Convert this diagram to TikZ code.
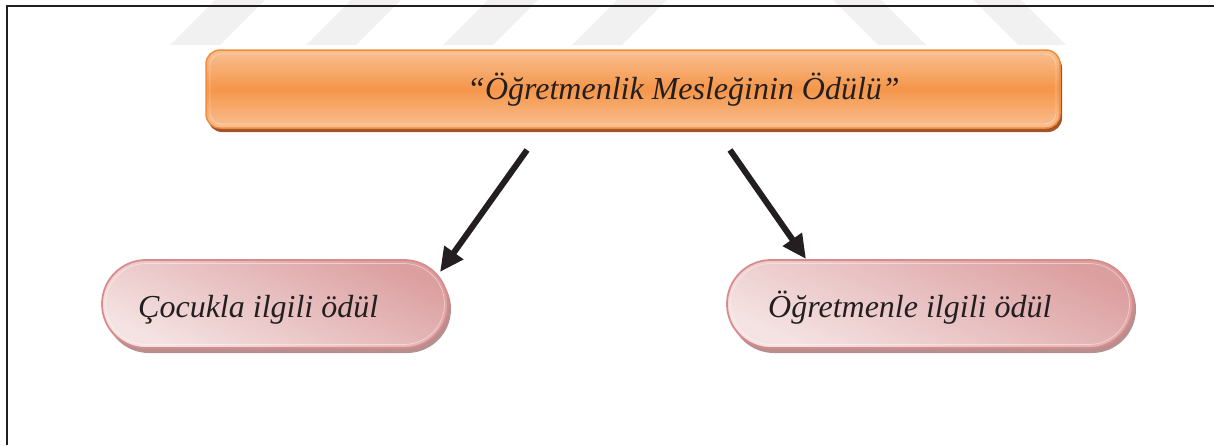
\documentclass[tikz,border=0pt]{standalone}
\usepackage{fontspec}
\setmainfont{Liberation Serif}
\usetikzlibrary{shapes.misc,arrows.meta,shadows}

\definecolor{orEdge}{HTML}{F08C3C}
\definecolor{orLight}{HTML}{F9BF92}
\definecolor{orMid}{HTML}{F5964A}
\definecolor{orShadow}{HTML}{A2542A}
\definecolor{pkEdge}{HTML}{D98B8B}
\definecolor{pkDark}{HTML}{DC9FA0}
\definecolor{pkLight}{HTML}{F5E3E3}
\definecolor{pkShadow}{HTML}{B88F8F}
\definecolor{ink}{HTML}{231F20}
\definecolor{wmFill}{HTML}{F1F1F1}

\begin{document}
\begin{tikzpicture}[x=1pt,y=-1pt,
  frameline/.style={ink, line width=2.4pt},
  wmark/.style={fill=wmFill, draw=none},
  titlebox/.style={rectangle, rounded corners=14pt, draw=orEdge, line width=1.5pt,
    top color=orLight, bottom color=orLight, middle color=orMid,
    minimum width=854pt, minimum height=78pt, inner sep=0pt,
    general shadow={shadow xshift=2pt, shadow yshift=-4pt, fill=orShadow}},
  titleglow/.style={rectangle, rounded corners=11pt, draw=white, draw opacity=0.35,
    line width=0.8pt, minimum width=846pt, minimum height=70pt, inner sep=0pt},
  pill/.style={rounded rectangle, draw=pkEdge, line width=1.8pt,
    top color=pkDark, bottom color=pkLight, shading angle=-25,
    minimum height=88pt, inner sep=0pt,
    general shadow={shadow xshift=3pt, shadow yshift=-5pt, fill=pkShadow}},
  pillglow/.style={rounded rectangle, draw=white, draw opacity=0.45,
    line width=0.7pt, minimum height=81pt, inner sep=0pt},
  bigtext/.style={font=\itshape\fontsize{32}{38}\selectfont, text=ink, inner sep=0pt, anchor=base west},
  pilltext/.style={font=\itshape\fontsize{32}{38}\selectfont, text=ink, inner sep=0pt, anchor=base west},
  arrowline/.style={ink, line width=6pt, -{Triangle[length=24pt,width=22pt]}}
]
\useasboundingbox (0,0) rectangle (1214,445);

% faint slanted bands along the top edge
\foreach \x in {170,306,443,572}
  \fill[wmark] (\x,45) -- (\x+50,45) -- (\x+95,0) -- (\x+45,0) -- cycle;
\foreach \x in {833,973}
  \fill[wmark] (\x,0) -- (\x+48,0) -- (\x+93,45) -- (\x+45,45) -- cycle;

% page frame
\draw[frameline] (1214,6) -- (7,6) -- (7,445);

% title box
\node[titlebox] (title) at (633,89) {};
\node[titleglow] (titleg) at (633,89) {};
\node[bigtext] (titletext) at (467,99) {“Öğretmenlik Mesleğinin Ödülü”};

% the two rewards
\node[pill, minimum width=346pt] (child) at (275,304) {};
\node[pillglow, minimum width=339pt] (childg) at (275,304) {};
\node[pilltext] (childtext) at (138,317) {Çocukla ilgili ödül};

\node[pill, minimum width=406pt] (teacher) at (930,304) {};
\node[pillglow, minimum width=399pt] (teacherg) at (930,304) {};
\node[pilltext] (teachertext) at (768,317) {Öğretmenle ilgili ödül};

% connectors
\coordinate (lstart) at (527,150);
\coordinate (lend) at (440,272);
\coordinate (rstart) at (730,150);
\coordinate (rend) at (806,259);
\draw[arrowline] (lstart) -- (lend);
\draw[arrowline] (rstart) -- (rend);
\end{tikzpicture}
\end{document}
